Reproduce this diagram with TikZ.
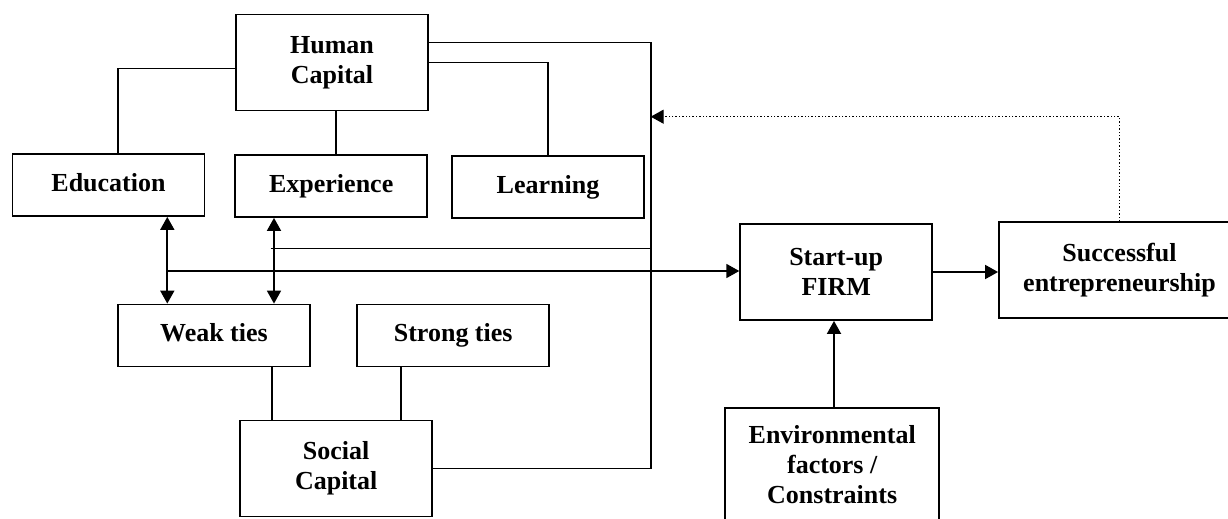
\documentclass[tikz,border=0pt]{standalone}
\usepackage{fontspec}
\setmainfont{Liberation Serif}
\usepackage{tikz}
\usetikzlibrary{calc, positioning, arrows.meta}

\tikzset{
	box/.style={draw, line width=1.8pt, align=center, inner sep=0pt, minimum width=192pt,
		font=\bfseries\fontsize{26}{30}\selectfont},
	oneline/.style={box, minimum height=62pt, text height=18pt, text depth=6pt},
	tip/.tip={Triangle[length=13pt, width=14pt]}
}

\begin{document}
\begin{tikzpicture}
		[x=1pt, y=-1pt, line width=1.8pt]
	
		\useasboundingbox (0,0) rectangle (1228,519);
		\clip (0,0) rectangle (1228,519);
	
		% nodes %
		\node[box, minimum height=96pt] (hc) at (332,62.5) {Human\\Capital};
		\node[oneline] (edu) at (108.5,185) {Education};
		\node[oneline] (exp) at (331.2,186) {Experience};
		\node[oneline] (lrn) at (548,187) {Learning};
		\node[oneline] (weak) at (214,335.5) {Weak ties};
		\node[oneline] (strong) at (453.2,335.5) {Strong ties};
		\node[box, minimum height=96pt] (soc) at (336.2,468.5) {Social\\Capital};
		\node[box, minimum height=96pt] (firm) at (836.2,272) {Start-up\\FIRM};
		\node[box, minimum width=241pt, minimum height=96pt] (succ) at (1119.5,270.3) {Successful\\entrepreneurship};
		\node[box, minimum width=214pt, minimum height=114pt] (env) at (832.2,465) {Environmental\\factors /\\Constraints};
	
		% joints %
		\coordinate (bus) at (650.7,300);
		\coordinate (fb) at (650.7,116.7);
		\coordinate (eduj) at (167.3,271);
		\coordinate (expj) at (274,248.5);
	
		% edges %
		\draw ([yshift=-6pt]hc.west) -| ([xshift=9.5pt]edu.north);
		\draw ([xshift=3.7pt]hc.south) -- ([xshift=3.7pt]hc.south |- exp.north);
		\draw (hc.east) -| (lrn.north);
		\draw ([yshift=20pt]hc.east) -| (bus) |- (soc.east);
		\draw[dotted, line width=1.4pt, -tip] (succ.north) |- (fb);
		\draw ([xshift=-3.3pt]expj) -- (expj -| bus);
		\draw[-tip] (eduj) -- (eduj -| firm.west);
		\draw[tip-tip] (edu.south -| eduj) -- (weak.north -| eduj);
		\draw[tip-tip] (exp.south -| expj) -- (weak.north -| expj);
		\draw ([xshift=57.7pt]weak.south) -- ([xshift=57.7pt]weak.south |- soc.north);
		\draw ([xshift=-52.5pt]strong.south) -- ([xshift=-52.5pt]strong.south |- soc.north);
		\draw[-tip] (firm.east) -- (firm.east -| succ.west);
		\draw[-tip] ([xshift=1.8pt]env.north) -- ([xshift=1.8pt]env.north |- firm.south);
	
\end{tikzpicture}
\end{document}
